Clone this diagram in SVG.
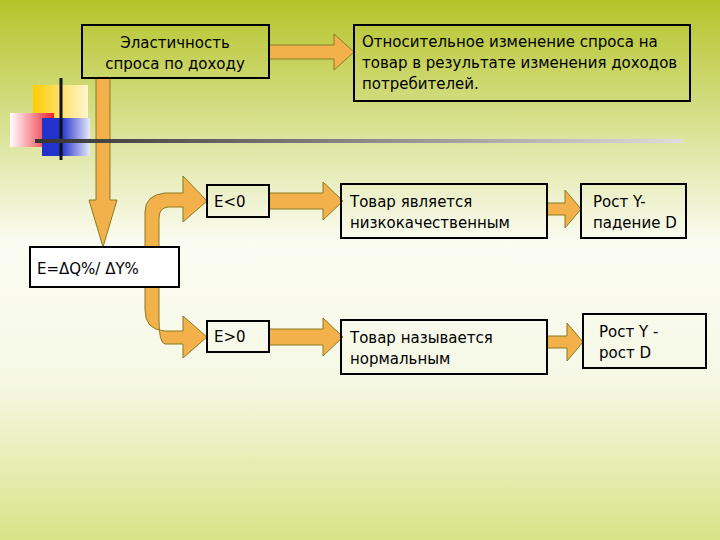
<svg xmlns="http://www.w3.org/2000/svg" width="720" height="540" viewBox="0 0 720 540">
<defs>
<linearGradient id="bg" x1="0" y1="0" x2="0" y2="1">
<stop offset="0" stop-color="#b5c42a"/><stop offset="0.45" stop-color="#fbfcf2"/><stop offset="0.7" stop-color="#f6f8e6"/><stop offset="1" stop-color="#d8e487"/>
</linearGradient>
<linearGradient id="ln" x1="0" y1="0" x2="1" y2="0">
<stop offset="0" stop-color="#333"/><stop offset="1" stop-color="#ddd"/>
</linearGradient>
<linearGradient id="yel" x1="0" y1="0" x2="1" y2="0"><stop offset="0" stop-color="#ffcc00"/><stop offset="1" stop-color="#fff6d0"/></linearGradient>
<linearGradient id="red" x1="0" y1="0" x2="1" y2="0"><stop offset="0" stop-color="#fff"/><stop offset="1" stop-color="#ee2030"/></linearGradient>
<linearGradient id="blu" x1="0" y1="0" x2="1" y2="0"><stop offset="0.4" stop-color="#2233cc"/><stop offset="1" stop-color="#e8eaf8"/></linearGradient>
<style>
.b{stroke:#000;stroke-width:2;fill:none}
.a{fill:#f3b14c;stroke:#8a7a20;stroke-width:1}
text{font-family:"DejaVu Sans",Verdana,sans-serif;font-size:15px;fill:#000}
</style>
</defs>
<rect width="720" height="540" fill="url(#bg)"/>
<rect x="33" y="85" width="55" height="33" fill="url(#yel)"/>
<rect x="10" y="113" width="44" height="34" fill="url(#red)"/>
<rect x="42" y="118" width="48" height="38" fill="url(#blu)"/>
<line x1="61" y1="78" x2="61" y2="160" stroke="#111" stroke-width="3"/>
<g id="connectors">
<path class="a" d="M269,45 H334 V34 L354,52 L334,70 V59 H269 Z"/>
<path class="a" d="M96,78 H110 V200 H117 L103,247 L89,200 H96 Z"/>
<path class="a" d="M145,247 V212 Q145,195 165,193 H183 V176 L207,201 L183,222 V207 H168 Q159,208 159,218 V247 Z"/>
<path class="a" d="M145,287 V310 Q145,330 165,331 H183 V316 L207,337 L183,358 V344 H165 Q159,343 159,320 V287 Z"/>
<path class="a" d="M269,193 H323 V182 L343,201 L323,220 V209 H269 Z"/>
<path class="a" d="M269,329 H323 V318 L343,337 L323,356 V345 H269 Z"/>
<path class="a" d="M547,203 H565 V190 L581,209 L565,228 V215 H547 Z"/>
<path class="a" d="M547,336 H567 V323 L583,342 L567,361 V348 H547 Z"/>
</g>
<rect x="35" y="139" width="648" height="4" fill="url(#ln)"/>
<g id="n1"><rect x="82" y="25" width="187" height="53" class="b"/>
<text x="175" y="48" text-anchor="middle">Эластичность</text><text x="175" y="69" text-anchor="middle">спроса по доходу</text></g>
<g id="n2"><rect x="354" y="25" width="336" height="76" class="b"/>
<text x="362" y="47">Относительное изменение спроса на</text><text x="362" y="68">товар в результате изменения доходов</text><text x="362" y="89">потребителей.</text></g>
<g id="n3"><rect x="30" y="247" width="149" height="40" class="b" style="fill:#fff"/>
<text x="37" y="274">E=ΔQ%/ ΔY%</text></g>
<g id="n4"><rect x="207" y="185" width="62" height="32" class="b"/><text x="214" y="207">E&lt;0</text></g>
<g id="n5"><rect x="207" y="321" width="62" height="31" class="b"/><text x="214" y="342">E&gt;0</text></g>
<g id="n6"><rect x="341" y="184" width="206" height="54" class="b"/><text x="350" y="207">Товар является</text><text x="350" y="228">низкокачественным</text></g>
<g id="n7"><rect x="581" y="184" width="105" height="54" class="b"/><text x="593" y="207">Рост Y-</text><text x="593" y="228">падение D</text></g>
<g id="n8"><rect x="341" y="320" width="206" height="54" class="b"/><text x="350" y="343">Товар называется</text><text x="350" y="364">нормальным</text></g>
<g id="n9"><rect x="583" y="314" width="123" height="54" class="b"/><text x="599" y="337">Рост Y  -</text><text x="599" y="358">рост D</text></g>
</svg>
